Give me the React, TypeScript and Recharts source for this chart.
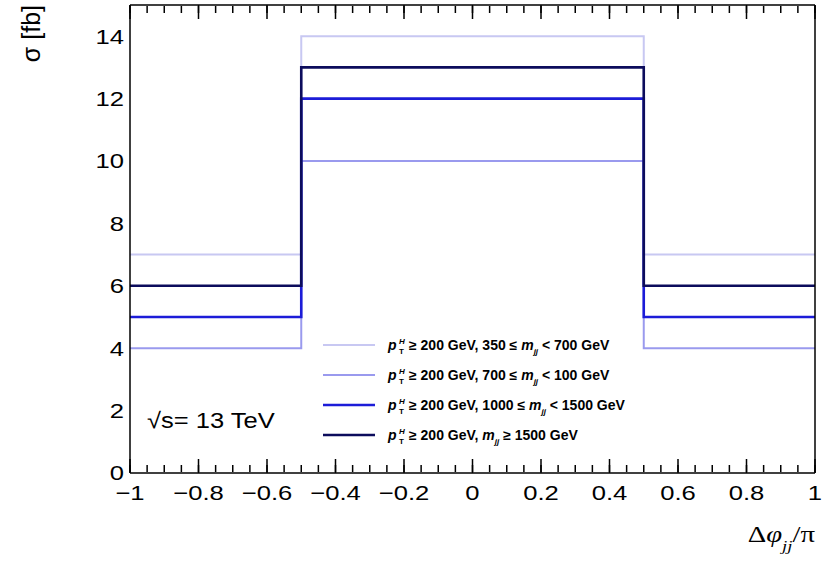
import React from 'react';
import { LineChart, Line, XAxis, YAxis, Customized } from 'recharts';

// Histogram bin edges (Δφ_jj / π) and bin contents (σ in fb)
const binEdges = [-1, -0.5, 0.5, 1];
const sigma350to700 = [7, 14, 7];
const sigma700to1000 = [4, 10, 4];
const sigma1000to1500 = [5, 12, 5];
const sigma1500up = [6, 13, 6];

const xMajorTicks = [-1, -0.8, -0.6, -0.4, -0.2, 0, 0.2, 0.4, 0.6, 0.8, 1];
const yMajorTicks = [0, 2, 4, 6, 8, 10, 12, 14];
const xMinorTicks = Array.from({ length: 41 }, (_, i) => Math.round((-1 + i * 0.05) * 100) / 100);
const yMinorTicks = Array.from({ length: 31 }, (_, i) => i * 0.5);

const seriesKeys = ['s350', 's700', 's1000', 's1500'];
const seriesValues = [sigma350to700, sigma700to1000, sigma1000to1500, sigma1500up];
const seriesColors = ['#c8c8f2', '#9a9aee', '#1c1cd8', '#0c0c5c'];
const seriesWidths = [2, 2, 2.6, 2.6];
const legendMid = ['350 ≤ ', '700 ≤ ', '1000 ≤ ', ''];
const legendEnd = [' < 700 GeV', ' < 100 GeV', ' < 1500 GeV', ' ≥ 1500 GeV'];

const data = binEdges.map((edge, i) => {
  const row: Record<string, number> = { x: edge };
  seriesKeys.forEach((k, s) => {
    const vals = seriesValues[s];
    row[k] = vals[Math.min(i, vals.length - 1)];
  });
  return row;
});

const SANS = '"Liberation Sans", Arial, Helvetica, sans-serif';
const SERIF = '"Liberation Serif", "Times New Roman", serif';
const STRETCH = 1.22;
const fmt = (v: number) => String(v).replace('-', '\u2212');
const empty = () => '';

const XTick = (props: any) => {
  const { x, y, payload } = props;
  return (
    <text
      transform={`translate(${x},${y}) scale(${STRETCH},1)`}
      textAnchor="middle"
      dy="0.71em"
      fontFamily={SANS}
      fontSize={21}
      fill="#000"
    >
      {fmt(payload.value)}
    </text>
  );
};

const YTick = (props: any) => {
  const { x, y, payload } = props;
  return (
    <text
      transform={`translate(${x},${y}) scale(${STRETCH},1)`}
      textAnchor="end"
      dy="0.355em"
      fontFamily={SANS}
      fontSize={21}
      fill="#000"
    >
      {fmt(payload.value)}
    </text>
  );
};

const Decorations = () => {
  const legendX = 323;
  const legendY = [345, 375, 405, 435];
  return (
    <g>
      <text
        transform="translate(40,5) rotate(-90)"
        textAnchor="end"
        fontFamily={SANS}
        fontSize={25}
        fill="#000"
      >
        σ [fb]
      </text>
      <text
        transform={`translate(815,542) scale(1.25,1)`}
        textAnchor="end"
        fontFamily={SERIF}
        fontSize={23}
        fill="#000"
      >
        Δ<tspan fontStyle="italic">φ</tspan>
        <tspan dy={9} fontSize={15} fontStyle="italic">jj</tspan>
        <tspan dy={-9}>/π</tspan>
      </text>
      <text
        transform={`translate(147,428) scale(1.16,1)`}
        fontFamily={SANS}
        fontSize={22}
        fill="#000"
      >
        √s= 13 TeV
      </text>
      {seriesKeys.map((k, i) => {
        const y = legendY[i];
        return (
          <g key={k}>
            <line x1={legendX} x2={legendX + 52} y1={y} y2={y} stroke={seriesColors[i]} strokeWidth={seriesWidths[i]} />
            <text x={388} y={y + 5} fontFamily={SANS} fontSize={14} fontWeight="bold" fontStyle="italic" fill="#000">p</text>
            <text x={399} y={y - 1} fontFamily={SANS} fontSize={8} fontWeight="bold" fontStyle="italic" fill="#000">H</text>
            <text x={399} y={y + 9} fontFamily={SANS} fontSize={8} fontWeight="bold" fill="#000">T</text>
            <text x={409} y={y + 5} fontFamily={SANS} fontSize={14} fontWeight="bold" fill="#000">
              ≥ 200 GeV, {legendMid[i]}
              <tspan fontStyle="italic">m</tspan>
              <tspan dy={4} fontSize={8} fontStyle="italic">jj</tspan>
              <tspan dy={-4}>{legendEnd[i]}</tspan>
            </text>
          </g>
        );
      })}
    </g>
  );
};

const lineStyle = { stroke: '#000', strokeWidth: 1.5 };

export default function App() {
  return (
    <div style={{ position: 'absolute', left: 0, top: 0, width: 827, height: 561, background: '#fff' }}>
      <LineChart width={827} height={561} data={data} margin={{ top: 5, right: 12, left: 0, bottom: 0 }}>
        {/* label axes */}
        <XAxis
          xAxisId="lab"
          dataKey="x"
          type="number"
          domain={[-1, 1]}
          ticks={xMajorTicks}
          height={88}
          tickLine={false}
          axisLine={false}
          tickSize={0}
          tickMargin={12}
          interval={0}
          tick={XTick}
        />
        <YAxis
          yAxisId="lab"
          type="number"
          domain={[0, 15]}
          ticks={yMajorTicks}
          width={130}
          tickLine={false}
          axisLine={false}
          tickSize={0}
          tickMargin={6}
          interval={0}
          tick={YTick}
        />
        {/* inward major/minor ticks + frame */}
        <XAxis xAxisId="bMaj" dataKey="x" type="number" domain={[-1, 1]} ticks={xMajorTicks} mirror orientation="bottom" tickFormatter={empty} tickSize={14} height={1} interval={0} axisLine={lineStyle} tickLine={lineStyle} />
        <XAxis xAxisId="bMin" dataKey="x" type="number" domain={[-1, 1]} ticks={xMinorTicks} mirror orientation="bottom" tickFormatter={empty} tickSize={7} height={1} interval={0} axisLine={false} tickLine={lineStyle} />
        <XAxis xAxisId="tMaj" dataKey="x" type="number" domain={[-1, 1]} ticks={xMajorTicks} mirror orientation="top" tickFormatter={empty} tickSize={14} height={1} interval={0} axisLine={lineStyle} tickLine={lineStyle} />
        <XAxis xAxisId="tMin" dataKey="x" type="number" domain={[-1, 1]} ticks={xMinorTicks} mirror orientation="top" tickFormatter={empty} tickSize={7} height={1} interval={0} axisLine={false} tickLine={lineStyle} />
        <YAxis yAxisId="lMaj" type="number" domain={[0, 15]} ticks={yMajorTicks} mirror orientation="left" tickFormatter={empty} tickSize={20} width={1} interval={0} axisLine={lineStyle} tickLine={lineStyle} />
        <YAxis yAxisId="lMin" type="number" domain={[0, 15]} ticks={yMinorTicks} mirror orientation="left" tickFormatter={empty} tickSize={10} width={1} interval={0} axisLine={false} tickLine={lineStyle} />
        <YAxis yAxisId="rMaj" type="number" domain={[0, 15]} ticks={yMajorTicks} mirror orientation="right" tickFormatter={empty} tickSize={20} width={1} interval={0} axisLine={lineStyle} tickLine={lineStyle} />
        <YAxis yAxisId="rMin" type="number" domain={[0, 15]} ticks={yMinorTicks} mirror orientation="right" tickFormatter={empty} tickSize={10} width={1} interval={0} axisLine={false} tickLine={lineStyle} />
        {seriesKeys.map((k, i) => (
          <Line
            key={k}
            xAxisId="lab"
            yAxisId="lab"
            dataKey={k}
            type="stepAfter"
            stroke={seriesColors[i]}
            strokeWidth={seriesWidths[i]}
            dot={false}
            activeDot={false}
            isAnimationActive={false}
          />
        ))}
        <Customized component={Decorations} />
      </LineChart>
    </div>
  );
}
